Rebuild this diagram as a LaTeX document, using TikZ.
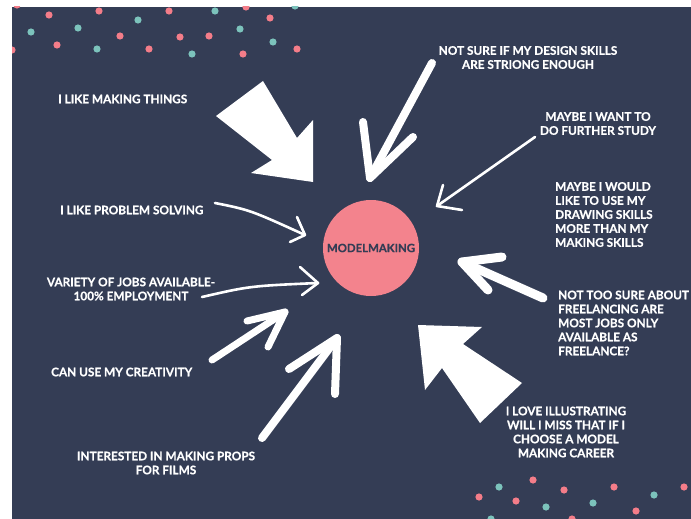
\documentclass[tikz,border=0pt]{standalone}
\usepackage{fontspec}
\setmainfont{Lato}[BoldFeatures={FakeBold=0.6}]
\definecolor{bg}{HTML}{343D55}
\definecolor{dotpink}{HTML}{F47D89}
\definecolor{dotteal}{HTML}{7CC3BC}
\definecolor{circpink}{HTML}{F3838D}
\begin{document}
\begin{tikzpicture}[x=1pt,y=-1pt,
  lbl/.style={text=white, font=\bfseries\fontsize{11.8}{14}\selectfont, inner sep=0pt},
  brush/.style={draw=white, line width=8pt, line cap=round, line join=round},
  thinarrow/.style={draw=white, line width=2.6pt, line cap=round, line join=round},
  block/.style={fill=white},
  pdot/.style={fill=dotpink},
  tdot/.style={fill=dotteal}]
\useasboundingbox (0,0) rectangle (691,519);
\fill[white] (0,0) rectangle (691,519);
\fill[bg] (12,7) rectangle (691,519);
\begin{scope}
\clip (12,7) rectangle (691,519);
% top-left dots
\foreach \x/\y in {17/5,49/15,99/11,169/11,246/7,270/18,120/36,57/45,149/49,180/37,209/36,243/54,297/49,12/50}
  \fill[pdot] (\x,\y) circle (3.6);
\foreach \x/\y in {31/32,78/28,138/20,215/11,295/6,97/49,192/54,240/29,273/42}
  \fill[tdot] (\x,\y) circle (3.6);
% bottom-right dots
\foreach \x/\y in {479/497,533/480,516/501,564/490,614/487,636/511,684/487,572/519}
  \fill[pdot] (\x,\y) circle (3.6);
\foreach \x/\y in {499/487,546/507,593/503,654/495,491/519}
  \fill[tdot] (\x,\y) circle (3.6);
\end{scope}

% central circle
\node[circle, fill=circpink, minimum size=96pt, inner sep=0pt,
  text=bg, font=\bfseries\fontsize{11.4}{13}\selectfont] (center) at (371,248) {MODELMAKING};

% labels
\node[lbl, anchor=west] (l1) at (58,99) {I LIKE MAKING THINGS};
\node[lbl, align=center] (l2) at (528,57.5) {NOT SURE IF MY DESIGN SKILLS\\ARE STRIONG ENOUGH};
\node[lbl, align=center] (l3) at (598,123.5) {MAYBE I WANT TO\\DO FURTHER STUDY};
\node[lbl, align=left, anchor=west] (l4) at (555,214.5) {MAYBE I WOULD\\LIKE TO USE MY\\DRAWING SKILLS\\MORE THAN MY\\MAKING SKILLS};
\node[lbl, align=left, anchor=west] (l5) at (558,323) {NOT TOO SURE ABOUT\\FREELANCING ARE\\MOST JOBS ONLY\\AVAILABLE AS\\FREELANCE?};
\node[lbl, align=center] (l6) at (566,432) {I LOVE ILLUSTRATING\\WILL I MISS THAT IF I\\CHOOSE A MODEL\\MAKING CAREER};
\node[lbl, align=center] (l7) at (166,463) {INTERESTED IN MAKING PROPS\\FOR FILMS};
\node[lbl, anchor=west] (l8) at (51,372) {CAN USE MY CREATIVITY};
\node[lbl, align=center] (l9) at (131,289) {VARIETY OF JOBS AVAILABLE-\\100\% EMPLOYMENT};
\node[lbl, anchor=west] (l10) at (60,210) {I LIKE PROBLEM SOLVING};

% big block arrow top-left
\fill[block] (263,81) -- (297,138) -- (313,120) -- (313,182) -- (251,173) -- (272,160) -- (216,116) -- cycle;

% big block arrow bottom-right
\fill[block] (418,325) -- (482,327) -- (463,344) -- (522,383) -- (480,423) -- (442,368) -- (425,390) -- cycle;

% brush arrow from top
\coordinate (bT) at (432,63);
\coordinate (bH) at (370,178);
\draw[brush] (bT) -- (bH);
\draw[brush] (363,122) -- (bH) -- (413,137);

% thin arrow from "maybe I want to"
\coordinate (cT) at (535,137);
\coordinate (cH) at (437,206);
\draw[thinarrow] (cT) -- (cH);
\draw[thinarrow] (443,185) -- (cH) -- (462,210);

% problem solving arrow
\coordinate (dT) at (215,203);
\coordinate (dH) at (305,235);
\draw[thinarrow] (dT) .. controls (250,210) .. (dH);
\draw[thinarrow] (297,217) -- (dH) -- (290,242);

% variety arrow
\coordinate (eT) at (202,297);
\coordinate (eH) at (318,283);
\draw[thinarrow] (eT) .. controls (250,286) .. (eH);
\draw[thinarrow] (300,267) -- (eH) -- (302,295);

% creativity arrow
\coordinate (fT) at (212,360);
\coordinate (fH) at (285,312);
\draw[brush, line width=7pt] (fT) -- (fH);
\draw[brush, line width=7pt] (247,321) -- (fH) -- (268,347);

% props arrow
\coordinate (gT) at (262,438);
\coordinate (gH) at (337,338);
\draw[brush] (gT) -- (gH);
\draw[brush] (289,369) -- (gH) -- (335,394);

% freelancing arrow
\coordinate (iT) at (543,298);
\coordinate (iH) at (462,262);
\draw[brush, line width=9pt] (iT) -- (iH);
\draw[brush, line width=9pt] (502,257) -- (iH) -- (488,290);
\end{tikzpicture}
\end{document}
